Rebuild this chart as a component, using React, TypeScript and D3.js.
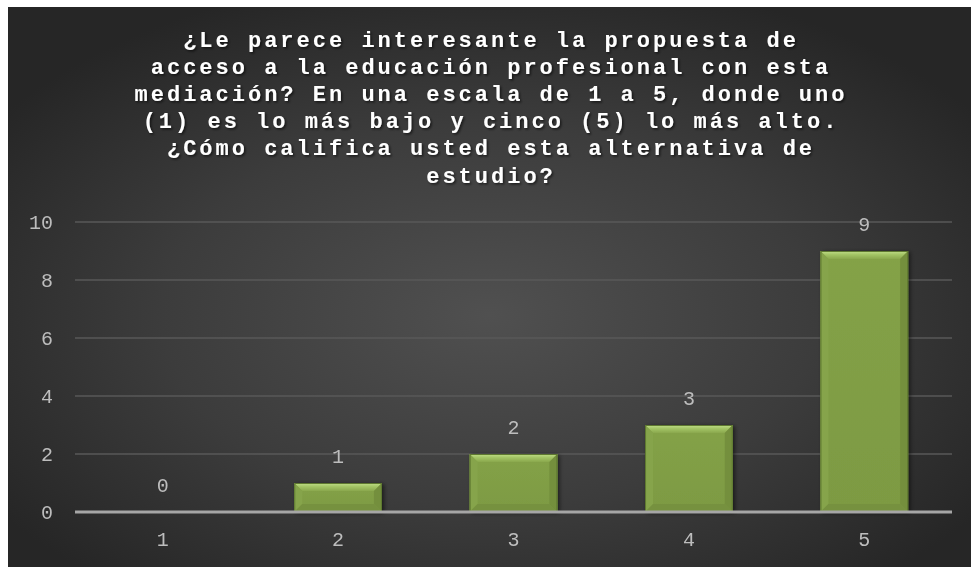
import * as d3 from 'd3'

const categories = ['1', '2', '3', '4', '5']
const counts = [0, 1, 2, 3, 9]
const yTicks = [0, 2, 4, 6, 8, 10]
const titleLines = [
  '¿Le parece interesante la propuesta de',
  'acceso a la educación profesional con esta',
  'mediación? En una escala de 1 a 5, donde uno',
  '(1) es lo más bajo y cinco (5) lo más alto.',
  '¿Cómo califica usted esta alternativa de',
  'estudio?',
]

const W = 963
const H = 560
const margin = { top: 208, right: 19, bottom: 55, left: 67 }

export default function App() {
  const x = d3.scaleBand<string>()
    .domain(categories)
    .range([margin.left, W - margin.right])
    .paddingInner(0.5)
    .paddingOuter(0.25)

  const y = d3.scaleLinear()
    .domain([0, 10])
    .range([H - margin.bottom, H - margin.bottom - 290])

  const bw = x.bandwidth()
  const bev = 8
  const monoFont = '"Liberation Mono", "DejaVu Sans Mono", monospace'

  return (
    <div style={{ position: 'fixed', left: 8, top: 7, width: W, height: H }}>
      <svg width={W} height={H} style={{ display: 'block' }}>
        <defs>
          <radialGradient id="bg" cx="0.5" cy="0.55" r="0.62">
            <stop offset="0" stopColor="#505050" />
            <stop offset="0.55" stopColor="#3c3c3c" />
            <stop offset="1" stopColor="#262626" />
          </radialGradient>
          <linearGradient id="topBev" x1="0" y1="0" x2="0" y2="1">
            <stop offset="0" stopColor="#c2df8a" />
            <stop offset="0.45" stopColor="#a3c465" />
            <stop offset="1" stopColor="#8aa84d" />
          </linearGradient>
          <linearGradient id="face" x1="0" y1="0" x2="0" y2="1">
            <stop offset="0" stopColor="#84a247" />
            <stop offset="1" stopColor="#7d9a43" />
          </linearGradient>
          <filter id="barShadow" x="-20%" y="-20%" width="140%" height="140%">
            <feDropShadow dx="2" dy="1" stdDeviation="2" floodColor="#000" floodOpacity="0.55" />
          </filter>
          <filter id="txtShadow" x="-5%" y="-20%" width="110%" height="140%">
            <feDropShadow dx="1.5" dy="1.5" stdDeviation="1.2" floodColor="#000" floodOpacity="0.6" />
          </filter>
        </defs>

        <rect width={W} height={H} fill="url(#bg)" />

        <g fontFamily={monoFont} fontWeight="bold" fontSize={22} fill="#ffffff"
          textAnchor="middle" filter="url(#txtShadow)" style={{ letterSpacing: '3px' }}>
          {titleLines.map((line, i) => (
            <text key={i} x={483} y={39.5 + i * 27.2}>{line}</text>
          ))}
        </g>

        {yTicks.filter(t => t > 0).map(t => (
          <line key={t} x1={margin.left} x2={W - margin.right} y1={y(t)} y2={y(t)}
            stroke="#585858" strokeWidth={1.5} />
        ))}

        <g fontFamily={monoFont} fontSize={20} fill="#bdbdbd">
          {yTicks.map(t => (
            <text key={t} x={45} y={y(t)} dy="0.35em" textAnchor="end">{t}</text>
          ))}
          {categories.map(c => (
            <text key={c} x={x(c)! + bw / 2} y={H - margin.bottom + 27} dy="0.35em" textAnchor="middle">{c}</text>
          ))}
        </g>

        {categories.map((c, i) => {
          const v = counts[i]
          if (v <= 0) return null
          const x0 = x(c)!
          const x1 = x0 + bw
          const yt = y(v)
          const yb = y(0)
          const b = Math.min(bev, (yb - yt) / 2)
          return (
            <g key={c}>
              <rect x={x0} y={yt} width={bw} height={yb - yt} fill="url(#face)" filter="url(#barShadow)" />
              <polygon points={`${x0},${yt} ${x1},${yt} ${x1 - b},${yt + b} ${x0 + b},${yt + b}`} fill="url(#topBev)" />
              <polygon points={`${x0},${yt} ${x0 + b},${yt + b} ${x0 + b},${yb - b} ${x0},${yb}`} fill="#86a44b" />
              <polygon points={`${x1},${yt} ${x1 - b},${yt + b} ${x1 - b},${yb - b} ${x1},${yb}`} fill="#748f3d" />
              <polygon points={`${x0},${yb} ${x0 + b},${yb - b} ${x1 - b},${yb - b} ${x1},${yb}`} fill="#76913f" />
              <rect x={x0 + 0.5} y={yt + 0.5} width={bw - 1} height={yb - yt - 1} fill="none" stroke="#5e7830" strokeWidth={1} />
            </g>
          )
        })}

        <line x1={margin.left} x2={W - margin.right} y1={y(0)} y2={y(0)} stroke="#a6a6a6" strokeWidth={3} />

        <g fontFamily={monoFont} fontSize={20} fill="#bdbdbd" textAnchor="middle">
          {categories.map((c, i) => (
            <text key={c} x={x(c)! + bw / 2} y={y(counts[i]) - 27} dy="0.35em">{counts[i]}</text>
          ))}
        </g>
      </svg>
    </div>
  )
}
